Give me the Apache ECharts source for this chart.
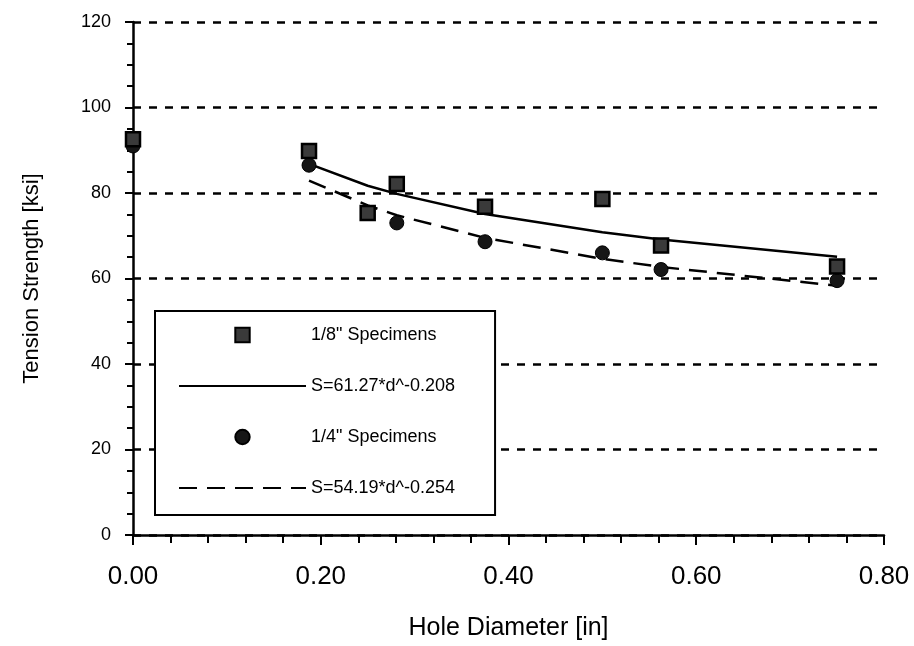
<!DOCTYPE html>
<html>
<head>
<meta charset="utf-8">
<script src="https://cdn.jsdelivr.net/npm/echarts@6/dist/echarts.min.js"></script>
<style>
html,body{margin:0;padding:0;background:#fff;}
#chart{width:914px;height:646px;}
</style>
</head>
<body>
<div id="chart"></div>
<script>
// Data
var eighthX = [0, 0.1875, 0.25, 0.281, 0.375, 0.5, 0.5625, 0.75];
var eighthY = [92.6, 89.8, 75.3, 82.1, 76.8, 78.6, 67.7, 62.8];
var quarterX = [0, 0.1875, 0.281, 0.375, 0.5, 0.5625, 0.75];
var quarterY = [91.0, 86.5, 73.0, 68.6, 66.0, 62.1, 59.5];
var fitX = [0.1875, 0.25, 0.281, 0.375, 0.5, 0.5625, 0.75];
var fitEighth = [86.8, 81.7, 79.8, 75.1, 70.8, 69.1, 65.1];
var fitQuarter = [82.9, 77.1, 74.8, 69.5, 64.6, 62.7, 58.3];
var seriesNames = ['1/8" Specimens', 'S=61.27*d^-0.208', '1/4" Specimens', 'S=54.19*d^-0.254'];

function pairs(xs, ys) { return xs.map(function (x, i) { return [x, ys[i]]; }); }

var FONT = '"Liberation Sans", Arial, Helvetica, sans-serif';
var chart = echarts.init(document.getElementById('chart'), null, {renderer: 'canvas'});
chart.setOption({
  animation: false,
  backgroundColor: '#ffffff',
  grid: {left: 133, right: 30, top: 22, bottom: 107, containLabel: false},
  legend: {
    orient: 'vertical',
    left: 155,
    top: 311,
    padding: [15, 40, 18, 23],
    itemWidth: 127,
    itemHeight: 18,
    itemGap: 33,
    borderColor: '#000',
    borderWidth: 2,
    borderRadius: 0,
    backgroundColor: '#fff',
    data: seriesNames,
    textStyle: {fontFamily: FONT, fontSize: 18, color: '#000'}
  },
  xAxis: {
    type: 'value',
    min: 0, max: 0.8, interval: 0.2,
    name: 'Hole Diameter [in]',
    nameLocation: 'middle',
    nameGap: 81,
    nameTextStyle: {fontFamily: FONT, fontSize: 25, color: '#000'},
    axisLine: {show: true, onZero: false, lineStyle: {color: '#000', width: 2.5}},
    axisTick: {show: true, inside: false, length: 10, lineStyle: {color: '#000', width: 2}},
    minorTick: {show: true, splitNumber: 5, length: 8, lineStyle: {color: '#000', width: 2}},
    axisLabel: {fontFamily: FONT, fontSize: 26, color: '#000', margin: 29,
      formatter: function (v) { return v.toFixed(2); }},
    splitLine: {show: false}
  },
  yAxis: {
    type: 'value',
    min: 0, max: 120, interval: 20,
    name: 'Tension Strength [ksi]',
    nameLocation: 'middle',
    nameGap: 90,
    nameTextStyle: {fontFamily: FONT, fontSize: 22, color: '#000'},
    axisLine: {show: true, lineStyle: {color: '#000', width: 2.5}},
    axisTick: {show: true, inside: false, length: 8, lineStyle: {color: '#000', width: 2}},
    minorTick: {show: true, splitNumber: 4, length: 6, lineStyle: {color: '#000', width: 2}},
    axisLabel: {fontFamily: FONT, fontSize: 18, color: '#000', margin: 22},
    splitLine: {show: true, lineStyle: {color: '#000', width: 2.5, type: [8, 8]}}
  },
  series: [
    {
      name: seriesNames[0], type: 'line', data: pairs(eighthX, eighthY),
      symbol: 'rect', symbolSize: 14, showSymbol: true,
      lineStyle: {width: 0, opacity: 0},
      itemStyle: {color: '#3a3a3a', borderColor: '#000', borderWidth: 2.5},
      z: 5
    },
    {
      name: seriesNames[1], type: 'line', data: pairs(fitX, fitEighth),
      symbol: 'none',
      lineStyle: {color: '#000', width: 2.5, type: 'solid'},
      itemStyle: {color: '#000', opacity: 0},
      z: 3
    },
    {
      name: seriesNames[2], type: 'line', data: pairs(quarterX, quarterY),
      symbol: 'circle', symbolSize: 14, showSymbol: true,
      lineStyle: {width: 0, opacity: 0},
      itemStyle: {color: '#161616', borderColor: '#000', borderWidth: 1},
      z: 4
    },
    {
      name: seriesNames[3], type: 'line', data: pairs(fitX, fitQuarter),
      symbol: 'none',
      lineStyle: {color: '#000', width: 2.5, type: [18, 10]},
      itemStyle: {color: '#000', opacity: 0},
      z: 3
    }
  ]
});
</script>
</body>
</html>
